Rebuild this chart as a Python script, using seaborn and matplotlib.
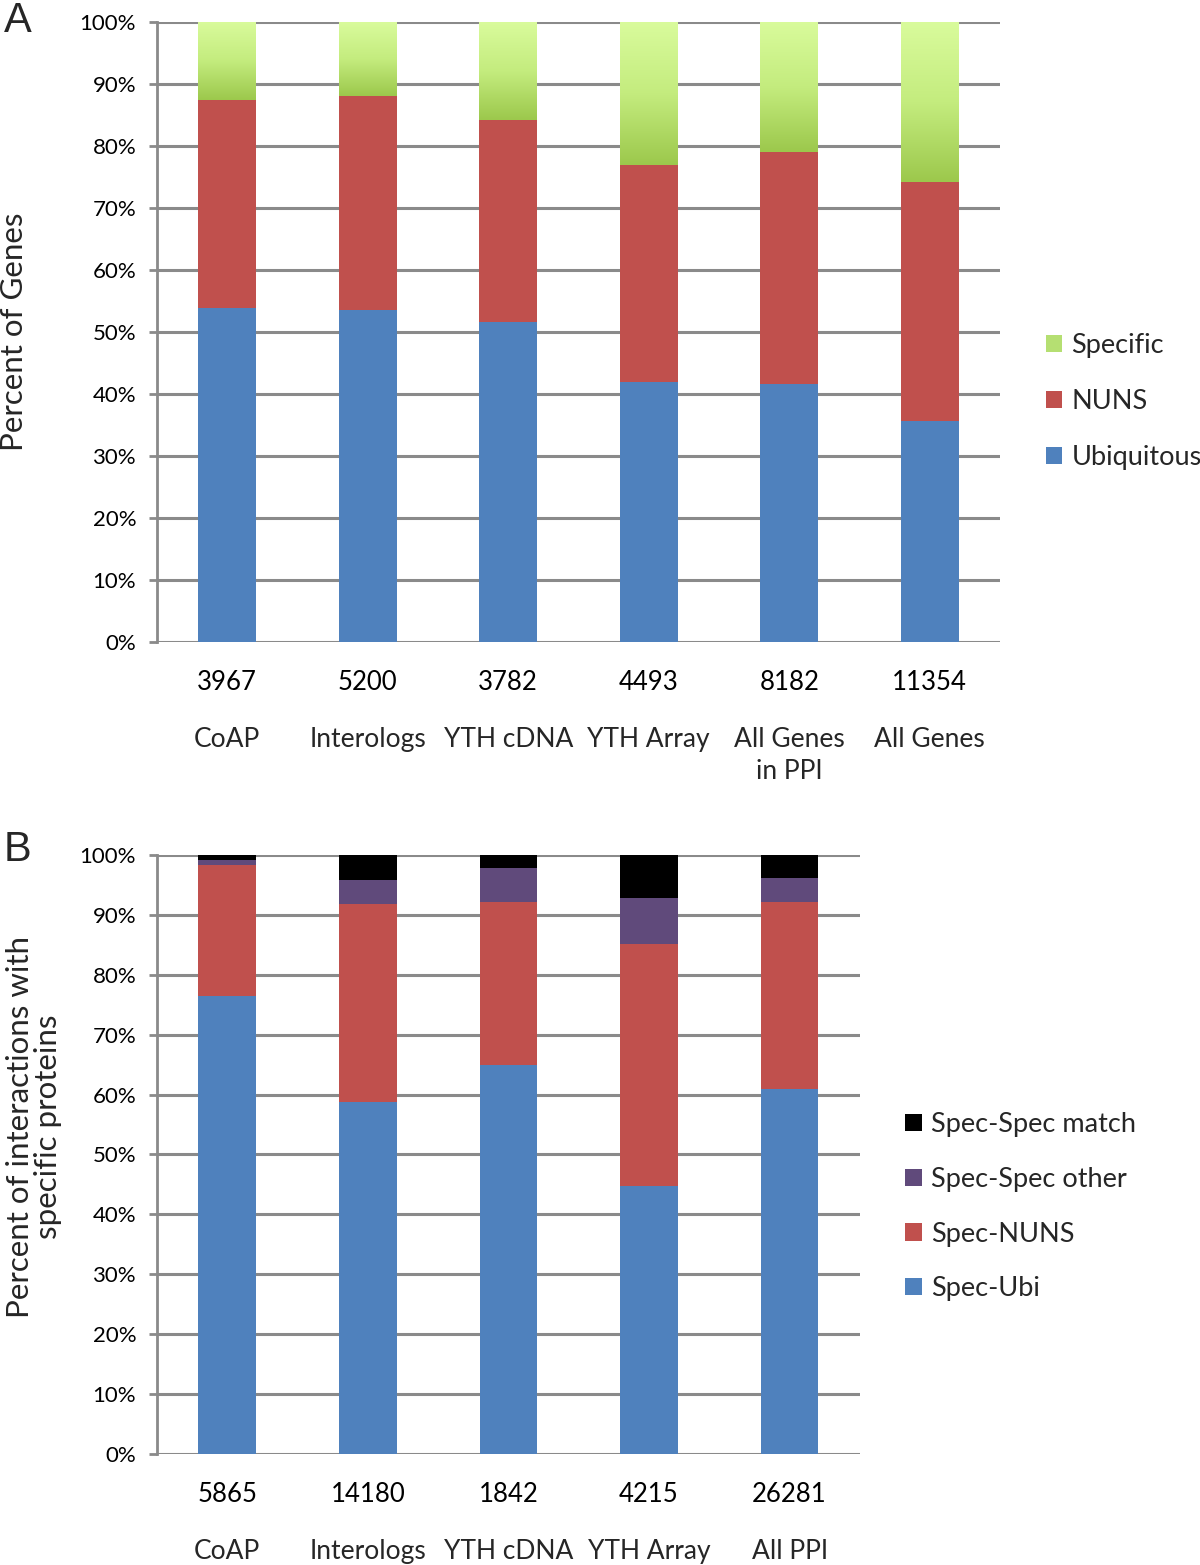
import numpy as np
import pandas as pd
import matplotlib
matplotlib.use("Agg")
import matplotlib.pyplot as plt
import seaborn as sns
from matplotlib.patches import Patch
from matplotlib.colors import LinearSegmentedColormap

# ---------------- Panel A data ----------------
a_categories = ["CoAP", "Interologs", "YTH cDNA", "YTH Array", "All Genes\nin PPI", "All Genes"]
a_counts = ["3967", "5200", "3782", "4493", "8182", "11354"]
a_ubiquitous = [53.9, 53.5, 51.6, 42.0, 41.6, 35.6]
a_nuns = [33.5, 34.6, 32.6, 35.0, 37.4, 38.6]
a_specific = [12.6, 11.9, 15.8, 23.0, 21.0, 25.8]
a_series = ["Ubiquitous", "NUNS", "Specific"]

# ---------------- Panel B data ----------------
b_categories = ["CoAP", "Interologs", "YTH cDNA", "YTH Array", "All PPI"]
b_counts = ["5865", "14180", "1842", "4215", "26281"]
b_spec_ubi = [76.5, 58.8, 65.0, 44.8, 60.9]
b_spec_nuns = [21.9, 33.0, 27.1, 40.3, 31.2]
b_spec_other = [0.8, 4.0, 5.8, 7.8, 4.1]
b_spec_match = [0.8, 4.2, 2.1, 7.1, 3.8]
b_series = ["Spec-Ubi", "Spec-NUNS", "Spec-Spec other", "Spec-Spec match"]

y_ticks = list(range(0, 101, 10))

BLUE = "#4f81bd"
RED = "#c0504d"
PURPLE = "#604a7b"
BLACK = "#000000"
GREEN = "#b5df72"
GRID = "#8a8a8a"

sns.set_theme(style="white")
plt.rcParams["font.family"] = ["Lato", "DejaVu Sans"]

fig = plt.figure(figsize=(12, 15.65), dpi=100)
axA = fig.add_axes([0.1308, 0.58978, 0.7025, 0.39617])
axB = fig.add_axes([0.1308, 0.07093, 0.5858, 0.38275])

green_cmap = LinearSegmentedColormap.from_list("g", ["#9cc84c", "#c4ec7e", "#d9fb9c"])


def stacked(ax, cats, layers, colors, gradient_top=False):
    n = len(cats)
    cums = []
    cum = np.zeros(n)
    for vals in layers:
        cum = cum + np.asarray(vals, dtype=float)
        cums.append(cum.copy())
    first_patches = None
    for k in reversed(range(len(layers))):
        d = pd.DataFrame({"cat": cats, "val": cums[k]})
        before = len(ax.patches)
        sns.barplot(data=d, x="cat", y="val", color=colors[k], saturation=1,
                    width=0.41, errorbar=None, linewidth=0, edgecolor="none",
                    ax=ax, zorder=2)
        if first_patches is None:
            first_patches = ax.patches[before:]
    if gradient_top:
        grad = np.linspace(0, 1, 256).reshape(-1, 1)
        lower = cums[-2]
        upper = cums[-1]
        for i, p in enumerate(first_patches):
            x0 = p.get_x()
            w = p.get_width()
            im = ax.imshow(grad, cmap=green_cmap, origin="lower", aspect="auto",
                           extent=(x0, x0 + w, lower[i], upper[i]), zorder=2.01,
                           interpolation="bilinear")
            im.set_clip_path(p)
        for patch in ax.patches[len(first_patches):]:
            patch.set_zorder(2.05)


def style_axes(ax, counts, cats):
    n = len(cats)
    ax.set_xlim(-0.5, n - 0.5)
    ax.set_ylim(0, 100)
    ax.set_yticks(y_ticks)
    ax.set_yticklabels([f"{v}%" for v in y_ticks], fontsize=16)
    ax.set_axisbelow(True)
    ax.yaxis.grid(True, color=GRID, linewidth=2.2, zorder=0)
    ax.xaxis.grid(False)
    for s in ["top", "right", "bottom"]:
        ax.spines[s].set_visible(False)
    ax.spines["left"].set_color(GRID)
    ax.spines["left"].set_linewidth(2)
    ax.tick_params(axis="y", which="both", left=True, length=6, width=2,
                   color=GRID, pad=9, labelcolor="black")
    ax.set_xticks(range(n))
    ax.set_xticklabels(counts, fontsize=18.5)
    ax.tick_params(axis="x", length=0, pad=20, labelcolor="black")
    ax.set_xlabel("")
    for i, c in enumerate(cats):
        ax.annotate(c, xy=(i, 0), xycoords=("data", "axes fraction"),
                    xytext=(0, -61), textcoords="offset points",
                    ha="center", va="top", fontsize=19, linespacing=1.35)


# Panel A
stacked(axA, a_categories, [a_ubiquitous, a_nuns, a_specific], [BLUE, RED, GREEN],
        gradient_top=True)
style_axes(axA, a_counts, a_categories)
axA.set_ylabel("Percent of Genes", fontsize=22.5)
axA.yaxis.set_label_coords(-0.153, 0.5)

# Panel B
stacked(axB, b_categories, [b_spec_ubi, b_spec_nuns, b_spec_other, b_spec_match],
        [BLUE, RED, PURPLE, BLACK])
style_axes(axB, b_counts, b_categories)
axB.set_ylabel("Percent of interactions with\nspecific proteins", fontsize=22.5,
               linespacing=1.0)
axB.yaxis.set_label_coords(-0.135, 0.546)

# Legends
hA = [Patch(facecolor=c, edgecolor="none") for c in [GREEN, RED, BLUE]]
fig.legend(hA, ["Specific", "NUNS", "Ubiquitous"], loc="center left",
           bbox_to_anchor=(0.8715, 0.7434), frameon=False, fontsize=19.5,
           handlelength=0.6, handleheight=0.6, handletextpad=0.35,
           labelspacing=1.15, borderaxespad=0, borderpad=0)
hB = [Patch(facecolor=c, edgecolor="none") for c in [BLACK, PURPLE, RED, BLUE]]
fig.legend(hB, ["Spec-Spec match", "Spec-Spec other", "Spec-NUNS", "Spec-Ubi"],
           loc="center left", bbox_to_anchor=(0.7545, 0.229), frameon=False,
           fontsize=19.5, handlelength=0.6, handleheight=0.6, handletextpad=0.35,
           labelspacing=1.1, borderaxespad=0, borderpad=0)

# Panel letters
fig.text(0.003, 0.9995, "A", fontsize=30, ha="left", va="top",
         family=["Liberation Sans", "DejaVu Sans"])
fig.text(0.003, 0.4695, "B", fontsize=30, ha="left", va="top",
         family=["Liberation Sans", "DejaVu Sans"])

fig.savefig("out.png", dpi=100, facecolor="white")
